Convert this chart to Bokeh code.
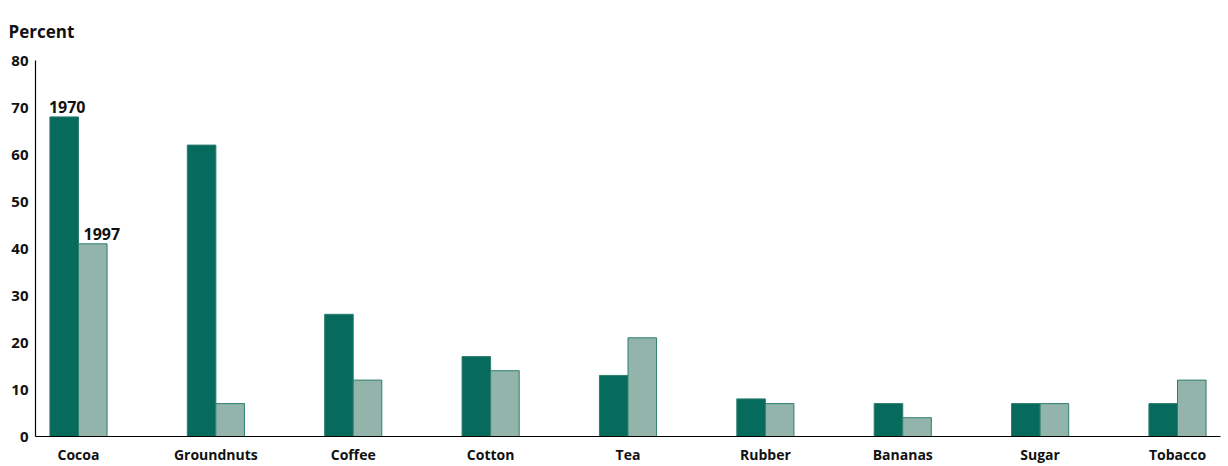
from bokeh.plotting import figure
from bokeh.models import ColumnDataSource, FixedTicker, Label, Range1d
from bokeh.transform import dodge
from bokeh.embed import file_html
from bokeh.resources import INLINE

categories = ["Cocoa", "Groundnuts", "Coffee", "Cotton", "Tea", "Rubber", "Bananas", "Sugar", "Tobacco"]
y1970 = [68, 62, 26, 17, 13, 8, 7, 7, 7]
y1997 = [41, 7, 12, 14, 21, 7, 4, 7, 12]
y_ticks = [0, 10, 20, 30, 40, 50, 60, 70, 80]

FONT = "Open Sans"
DARK = "#066b5c"
LIGHT = "#93b4aa"
BW = 0.208

W, H = 1228, 466
BL, BR, BT, BB = 35, 8, 60, 29
X0, X1 = -0.313, len(categories) - 1 + 0.313
Y0, Y1 = 0, 80

xs = list(range(len(categories)))
src = ColumnDataSource(dict(x=xs, a=y1970, b=y1997))

p = figure(width=W, height=H, output_backend="svg", toolbar_location=None,
           x_range=Range1d(X0, X1), y_range=Range1d(Y0, Y1), title="Percent",
           min_border_left=BL, min_border_right=BR, min_border_top=BT, min_border_bottom=BB)
p.outline_line_color = None
p.grid.grid_line_color = None
p.background_fill_color = "white"
p.border_fill_color = "white"

p.title.align = "left"
p.title.vertical_align = "top"
p.title.offset = -27
p.title.standoff = 32
p.title.text_font = FONT
p.title.text_font_style = "bold"
p.title.text_font_size = "17px"
p.title.text_color = "#111111"

p.vbar(x=dodge("x", -BW / 2), top="a", width=BW, source=src, fill_color=DARK,
       line_color="#2a7d6e", line_width=1)
p.vbar(x=dodge("x", BW / 2), top="b", width=BW, source=src, fill_color=LIGHT,
       line_color="#2f7f6f", line_width=1)

p.xaxis.ticker = FixedTicker(ticks=xs)
p.xaxis.major_label_overrides = {i: c for i, c in enumerate(categories)}
p.yaxis.ticker = FixedTicker(ticks=y_ticks)
for ax in (p.xaxis, p.yaxis):
    ax.major_tick_line_color = None
    ax.minor_tick_line_color = None
    ax.major_tick_out = 0
    ax.major_tick_in = 0
    ax.axis_line_color = "black"
    ax.axis_line_width = 1.2
    ax.major_label_text_font = FONT
    ax.major_label_text_font_style = "bold"
    ax.major_label_text_color = "#111111"
p.xaxis.major_label_text_font_size = "14px"
p.yaxis.major_label_text_font_size = "15px"
p.xaxis.major_label_standoff = 8
p.yaxis.major_label_standoff = 7

p.add_layout(Label(x=-BW / 2, y=y1970[0], text="1970", text_align="center", y_offset=4,
                   x_offset=3, text_font=FONT, text_font_style="bold", text_font_size="16px",
                   text_color="#111111"))
p.add_layout(Label(x=BW / 2, y=y1997[0], text="1997", text_align="center", y_offset=4,
                   x_offset=9, text_font=FONT, text_font_style="bold", text_font_size="16px",
                   text_color="#111111"))

open("out.html", "w").write(file_html(p, INLINE))
